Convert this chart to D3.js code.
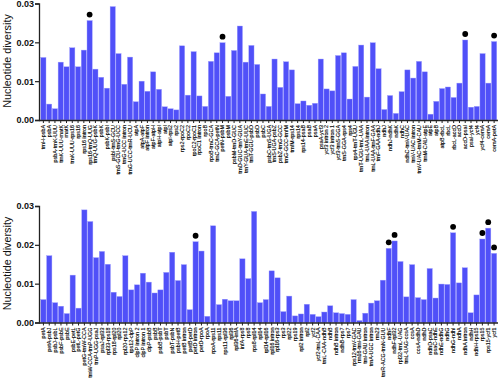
<!DOCTYPE html>
<html><head><meta charset="utf-8">
<script src="https://cdn.jsdelivr.net/npm/d3@7"></script>
<style>body{margin:0;background:#fff}svg{display:block}</style>
</head><body>
<script>
const topLabels = ["trnH-psbA","psbA","psbA-trnK-UUU","trnK-UUU-matK","matK","trnK-UUU-rps16","rps16","rps16 intron","rps16-trnQ-UUG","trnQ-UUG-psbK","psbK","psbK-psbI","psbI-trnS-GCU","trnS-GCU-trnG-UCC","trnG-UCC intron","trnG-UCC-trnR-UCU","atpA","atpA-atpF","atpF intron","atpF-atpH","atpH-atpI","atpI","atpI-rps2","rps2","rps2-rpoC2","rpoC2","rpoC2-rpoC1","rpoC1 intron","rpoB","rpoB-trnC-GCA","trnC-GCA-petN","petN-psbM","psbM","psbM-trnD-GUC","trnD-GUC-trnY-GUA","trnY-GUA-trnE-UUC","trnT-GGU-psbD","psbD","psbC","psbC-trnS-UGA","trnS-UGA-psbZ","psbZ-trnG-GCC","trnG-GCC-trnfM","trnfM-rps14","rps14","rps14-psaB","psaB","psaA","psaA-ycf3","ycf3 intron 2","ycf3 intron 1","ycf3-trnS-GGA","trnS-GGA-rps4","rps4","rps4-trnT-UGU","trnT-UGU-trnL-UAA","trnL-UAA intron","trnL-UAA-trnF-GAA","trnF-GAA-ndhJ","ndhJ","ndhJ-ndhK","ndhK","ndhC","ndhC-trnV-UAC","trnV-UAC intron","trnV-UAC-trnM-CAU","trnM-CAU-atpE","atpE","atpB","atpB-rbcL","rbcL","rbcL-accD","accD","accD-psaI","psaI-ycf4","ycf4","ycf4-cemA","cemA","cemA-petA"];
const topValues = [0.0161,0.0041,0.0029,0.0149,0.0137,0.0186,0.0137,0.0180,0.0256,0.0131,0.0110,0.0082,0.0292,0.0171,0.0092,0.0162,0.0047,0.0100,0.0074,0.0124,0.0079,0.0034,0.0029,0.0026,0.0191,0.0064,0.0176,0.0062,0.0035,0.0151,0.0173,0.0199,0.0061,0.0179,0.0242,0.0149,0.0192,0.0143,0.0067,0.0035,0.0157,0.0084,0.0150,0.0129,0.0042,0.0049,0.0038,0.0043,0.0157,0.0080,0.0075,0.0166,0.0173,0.0054,0.0138,0.0193,0.0059,0.0199,0.0132,0.0027,0.0063,0.0017,0.0073,0.0129,0.0108,0.0151,0.0124,0.0015,0.0048,0.0081,0.0085,0.0058,0.0095,0.0206,0.0033,0.0035,0.0171,0.0095,0.0202];
const topMarked = ["rps16-trnQ-UUG","petN-psbM","accD-psaI","cemA-petA"];

const bottomLabels = ["petA","petA-psbJ","psbJ-psbL","psbF-psbE","psbE","psbE-petL","petL-petG","petG-trnW-CCA","trnW-CCA-trnP-UGG","trnP-UGG-psaJ","psaJ-rpl33","rpl33-rps18","rps18-rpl20","rpl20","rpl20-rps12","rps12-clpP","clpP intron 2","clpP intron 1","clpP-psbB","psbB","psbB-psbT","psbT","psbT-psbN","psbH-petB","petB intron","petB-petD","petD intron","petD-rpoA","rpoA","rpoA-rps11","rps11","rps11-rpl36","rpl36","rpl36-infA","infA-rps8","rps8","rps8-rpl14","rpl14","rpl14-rpl16","rpl16 intron","rpl16-rps3","rps3","rpl22","rps19","rpl2 intron","rpl2","ycf2","ycf2-trnL-CAA","trnL-CAA-ndhB","ndhB","ndhB intron","ndhB-rps7","rps7","rps12-trnV-GAC","rrn16-trnI-GAU","trnI-GAU intron","trnA-UGC intron","rrn23","trnR-ACG-trnN-GUU","ndhF","ndhF-rpl32","rpl32-trnL-UAG","trnL-UAG-ccsA","ccsA","ccsA-ndhD","ndhD","ndhD-psaC","psaC-ndhE","ndhE-ndhG","ndhG","ndhG-ndhI","ndhA","ndhA intron","ndhH","ndhH-rps15","rps15","rps15-ycf1","ycf1"];
const bottomValues = [0.0059,0.0172,0.0051,0.0042,0.0023,0.0122,0.0037,0.0290,0.0260,0.0167,0.0183,0.0150,0.0078,0.0067,0.0172,0.0084,0.0097,0.0127,0.0104,0.0076,0.0084,0.0129,0.0181,0.0108,0.0149,0.0033,0.0208,0.0184,0.0016,0.0249,0.0046,0.0060,0.0056,0.0056,0.0164,0.0113,0.0286,0.0051,0.0059,0.0133,0.0115,0.0028,0.0068,0.0017,0.0022,0.0047,0.0021,0.0015,0.0027,0.0043,0.0025,0.0023,0.0021,0.0059,0.0005,0.0024,0.0050,0.0056,0.0109,0.0191,0.0210,0.0157,0.0066,0.0149,0.0064,0.0059,0.0139,0.0063,0.0099,0.0098,0.0231,0.0102,0.0141,0.0025,0.0071,0.0215,0.0243,0.0178];
const bottomMarked = ["petD intron","ndhF","ndhF-rpl32","ndhG-ndhI","rps15","rps15-ycf1","ycf1"];

const yTicks = [0, 0.01, 0.02, 0.03];
const yTitle = "Nucleotide diversity";

const W = 500, H = 385;
const svg = d3.select("body").append("svg").attr("width", W).attr("height", H);

function panel(labels, values, marked, y0, x1) {
  const x = d3.scaleBand().domain(labels).range([40.5, x1]).paddingInner(0.1).paddingOuter(0.05);
  const y = d3.scaleLinear().domain([0, 0.03]).range([y0, y0 - 116.5]);
  const g = svg.append("g");
  g.selectAll("rect.bar").data(labels).enter().append("rect")
    .attr("x", d => x(d)).attr("width", x.bandwidth())
    .attr("y", (d, i) => y(values[i])).attr("height", (d, i) => y0 - y(values[i]))
    .attr("fill", "#5050f8").attr("stroke", "#9a9aff").attr("stroke-width", 0.4);
  g.selectAll("circle.mk").data(labels.filter(d => marked.includes(d))).enter().append("circle")
    .attr("cx", d => x(d) + x.bandwidth() / 2)
    .attr("cy", d => y(values[labels.indexOf(d)]) - 6)
    .attr("r", 2.9).attr("fill", "#000");
  const xa = g.append("g").attr("transform", `translate(0,${y0})`)
    .call(d3.axisBottom(x).tickSize(3).tickSizeOuter(0));
  xa.select(".domain").attr("d", `M39,0.5H${x1 + 1}`).attr("stroke", "#222").attr("stroke-width", 1.3);
  xa.selectAll(".tick line").attr("stroke", "#222");
  xa.selectAll(".tick text").attr("transform", "rotate(-90)").attr("x", -5).attr("y", 0).attr("dy", "0.35em")
    .attr("text-anchor", "end").attr("font-size", 5.4).attr("font-family", "Liberation Sans, Arial, sans-serif")
    .attr("fill", "#000").attr("stroke", "#000").attr("stroke-width", 0.12);
  const ya = g.append("g").attr("transform", "translate(39,0)")
    .call(d3.axisLeft(y).tickValues(yTicks).tickFormat(d3.format(".2f")).tickSize(4));
  ya.select(".domain").attr("stroke", "#222").attr("stroke-width", 1.3);
  ya.selectAll(".tick line").attr("stroke", "#222").attr("stroke-width", 1.2);
  ya.selectAll(".tick text").attr("font-size", 9).attr("font-weight", "bold")
    .attr("font-family", "Liberation Sans, Arial, sans-serif").attr("fill", "#111").attr("x", -5);
  svg.append("text").attr("transform", `translate(11,${y0 - 59}) rotate(-90)`)
    .attr("text-anchor", "middle").attr("font-size", 10.8).attr("font-family", "Liberation Sans, Arial, sans-serif")
    .attr("fill", "#111").text(yTitle);
}
panel(topLabels, topValues, topMarked, 120, 497);
panel(bottomLabels, bottomValues, bottomMarked, 322.5, 497);
</script>
</body></html>
